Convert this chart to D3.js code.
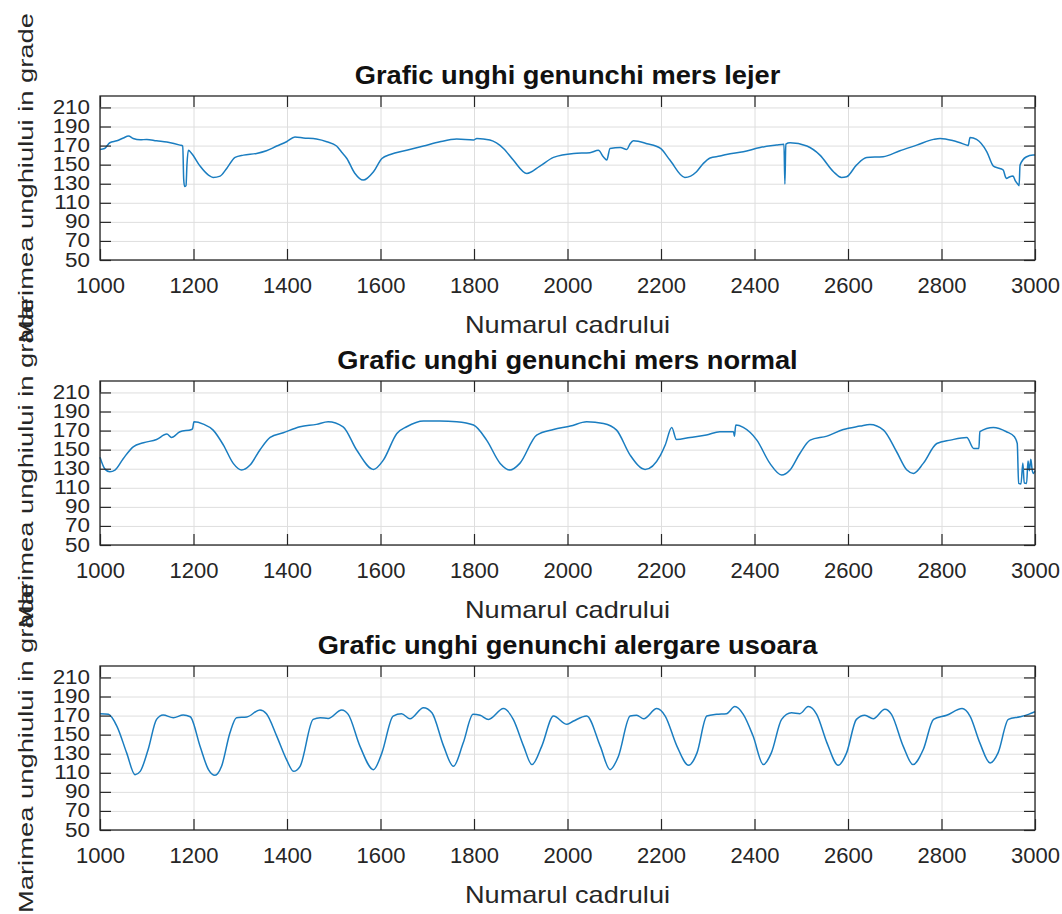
<!DOCTYPE html>
<html>
<head>
<meta charset="utf-8">
<script src="https://cdn.jsdelivr.net/npm/d3@7"></script>
<style>
  body { margin: 0; background: #fff; }
  svg { display: block; font-family: "Liberation Sans", Arial, Helvetica, sans-serif; }
</style>
</head>
<body>
<div id="chart"></div>
<script>

// Axis labels and ticks
const titles = [
  'Grafic unghi genunchi mers lejer',
  'Grafic unghi genunchi mers normal',
  'Grafic unghi genunchi alergare usoara'
];
const xLabel = 'Numarul cadrului';
const yLabel = 'Marimea unghiului in grade';
const xTicks = [1000, 1200, 1400, 1600, 1800, 2000, 2200, 2400, 2600, 2800, 3000];
const yTicks = [50, 70, 90, 110, 130, 150, 170, 190, 210];

// mers lejer
const lejerFrames = [1000, 1010, 1021, 1036, 1050, 1061, 1071, 1086, 1100, 1121, 1143, 1171, 1177, 1179, 1181, 1184, 1186, 1189,
  1196, 1214, 1232, 1242, 1257, 1271, 1289, 1307, 1335, 1356, 1378, 1399, 1417, 1435, 1463, 1485, 1506, 1517, 1528, 1545,
  1563, 1585, 1603, 1621, 1656, 1692, 1727, 1763, 1799, 1806, 1834, 1863, 1884, 1913, 1941, 1970, 2013, 2048, 2066, 2077,
  2084, 2091, 2113, 2127, 2134, 2141, 2170, 2199, 2219, 2251, 2276, 2290, 2305, 2326, 2340, 2376, 2412, 2447, 2463, 2465,
  2467, 2476, 2512, 2540, 2569, 2586, 2597, 2618, 2640, 2675, 2711, 2747, 2783, 2797, 2826, 2854, 2857, 2861, 2875, 2897,
  2911, 2925, 2932, 2937, 2939, 2945, 2953, 2958, 2963, 2966, 2968, 2981, 2996, 3000];
const lejerAngles = [166, 167, 173, 175, 178, 180, 177.5, 176, 176.5, 175, 173.7, 170.5, 169.5, 135, 127, 128, 150, 165,
  161.8, 148.5, 139, 136.6, 138, 146, 157.6, 160, 161.8, 164.6, 169.5, 174, 179, 178, 176.8, 174, 169.5, 163, 156.5, 141,
  133.8, 142.6, 156.5, 160.7, 165, 169.5, 174, 176.8, 175.8, 177.5, 175.8, 167, 154.8, 140.8, 148.5, 157.6, 161.8, 162.5, 165, 158,
  154.8, 167, 168, 166, 172, 175, 172, 167, 154.8, 136.6, 142.6, 151, 157, 159, 160.7, 163.5, 168, 170.5, 171.5, 129.6,
  171.6, 173, 169.5, 160, 142.6, 136.6, 137.3, 149.5, 157.6, 158.3, 164.6, 170.5, 176.5, 177.5, 175, 170.5, 170, 178.5, 176.5, 163.5,
  148.5, 146, 144.3, 137, 135.6, 137, 138, 133, 129.6, 128, 149.5, 158, 160, 160];

// mers normal
const normalFrames = [1000, 1011, 1021, 1032, 1050, 1071, 1093, 1121, 1143, 1153, 1171, 1196, 1198, 1201, 1221, 1242, 1264,
  1285, 1303, 1321, 1342, 1364, 1392, 1428, 1463, 1488, 1520, 1549, 1585, 1606, 1635, 1656, 1692, 1727, 1763, 1799, 1827,
  1856, 1877, 1898, 1934, 1970, 2006, 2041, 2077, 2105, 2134, 2166, 2199, 2209, 2223, 2233, 2262, 2297, 2326, 2355, 2357,
  2360, 2376, 2405, 2433, 2458, 2476, 2497, 2519, 2555, 2590, 2626, 2647, 2676, 2704, 2726, 2740, 2761, 2790, 2819, 2854,
  2869, 2880, 2882, 2911, 2939, 2956, 2962, 2965, 2970, 2974, 2977, 2982, 2985, 2988, 2991, 2994, 2997, 3000];
const normalAngles = [142, 129.3, 126.9, 128.6, 140.8, 153, 157.2, 160.7, 166.3, 162.8, 168.8, 171.2, 172, 179.3, 176.8, 170.5, 154.8,
  135.6, 128.6, 133.8, 149.6, 162.8, 167.7, 174, 176.5, 179.3, 174, 149.6, 129.3, 139, 167, 174, 180, 180, 179.3, 175.8, 160,
  135.6, 128.6, 135.6, 165.3, 171.2, 174.7, 179.3, 177.5, 170.5, 144.3, 129.3, 144.3, 154.8, 173.3, 160.7, 162.8, 165.3, 168.8, 168.8, 164,
  175.8, 173.3, 160, 135.6, 123.4, 128.6, 146, 160, 164.2, 171.2, 174.7, 176.5, 170.5, 147.8, 128.6, 125.1, 135.6, 156.5, 160, 162.8,
  151.3, 151.3, 168.8, 173.3, 168.8, 163.5, 156.5, 114.6, 114, 136, 115, 114.6, 138, 128, 140, 128.6, 125, 128];

// alergare usoara
const alergareFrames = [1000, 1018, 1036, 1057, 1075, 1086, 1103, 1121, 1135, 1157, 1178, 1193, 1214, 1232, 1246, 1260, 1278,
  1292, 1314, 1342, 1356, 1378, 1399, 1414, 1428, 1456, 1471, 1488, 1517, 1531, 1556, 1585, 1603, 1627, 1645, 1663, 1692,
  1710, 1735, 1756, 1777, 1798, 1813, 1831, 1863, 1884, 1906, 1924, 1945, 1970, 1999, 2013, 2041, 2070, 2091, 2109, 2134,
  2148, 2163, 2191, 2209, 2234, 2259, 2277, 2298, 2319, 2340, 2358, 2376, 2397, 2419, 2436, 2458, 2479, 2497, 2515, 2533,
  2555, 2579, 2597, 2618, 2636, 2654, 2679, 2693, 2718, 2739, 2761, 2783, 2811, 2844, 2861, 2882, 2904, 2921, 2943, 2968,
  2986, 3000];
const alergareAngles = [172, 171.3, 159, 130.9, 108, 111.5, 134.4, 166, 170.6, 167.8, 170.6, 168.8, 137.9, 113.3, 107.3, 116.8, 152,
  167.8, 168.5, 175.9, 172, 148.5, 123.8, 111.5, 116.8, 166, 167.8, 167, 175.9, 171.3, 138, 113.3, 130.9, 169.5, 172, 166.7, 178.3,
  173, 138, 116.8, 141.4, 171.3, 170.3, 166, 177.3, 166, 138, 118.6, 138, 169.5, 160.8, 164.3, 169.5, 138, 113.3, 127.4, 169.5,
  170.3, 166.7, 177.3, 169.5, 138, 117.9, 130.9, 169.5, 171.3, 172, 179.4, 171.3, 148.5, 118.6, 130.9, 166, 173, 172, 179.4, 171.3,
  141.4, 117.9, 130.9, 166, 170.3, 166.7, 176.6, 171.3, 138, 118.6, 134.4, 166, 170.3, 177.3, 169.5, 141.4, 120.3, 130.9, 166, 168.8,
  171.3, 174];

const series = [
  d3.zip(lejerFrames, lejerAngles),
  d3.zip(normalFrames, normalAngles),
  d3.zip(alergareFrames, alergareAngles)
];

const width = 1062;
const height = 914;
const plotLeft = 100;
const plotRight = 1035;
const plotHeight = 164;
const panelTops = [96, 381, 666];
const axisColor = '#262626';
const tickLength = 11;

const svg = d3.select('#chart')
  .append('svg')
  .attr('width', width)
  .attr('height', height);

const x = d3.scaleLinear()
  .domain([1000, 3000])
  .range([plotLeft, plotRight]);

// stretch a text node horizontally along its reading direction
function stretch(sel, factor) {
  const w = sel.node().getComputedTextLength();
  sel.attr('textLength', w * factor).attr('lengthAdjust', 'spacingAndGlyphs');
}

function styleAxis(g) {
  g.attr('font-family', null).attr('font-size', null);
  g.select('.domain').remove();
  g.selectAll('.tick line').attr('stroke', axisColor).attr('stroke-width', 1.2);
}

series.forEach(function(data, i) {

  const top = panelTops[i];
  const bottom = top + plotHeight;
  const y = d3.scaleLinear()
    .domain([50, 222])
    .range([bottom, top]);

  const panel = svg.append('g').attr('class', 'panel');

  // grid
  panel.append('g')
    .attr('transform', 'translate(0,' + bottom + ')')
    .call(d3.axisBottom(x).tickValues(xTicks).tickSize(-plotHeight).tickFormat(''))
    .call(g => g.select('.domain').remove())
    .selectAll('.tick line')
    .attr('stroke', '#dedede');

  panel.append('g')
    .attr('transform', 'translate(' + plotLeft + ',0)')
    .call(d3.axisLeft(y).tickValues(yTicks).tickSize(-(plotRight - plotLeft)).tickFormat(''))
    .call(g => g.select('.domain').remove())
    .selectAll('.tick line')
    .attr('stroke', '#dedede');

  // data line
  panel.append('path')
    .datum(data)
    .attr('fill', 'none')
    .attr('stroke', '#1a7dc0')
    .attr('stroke-width', 1.5)
    .attr('stroke-linejoin', 'round')
    .attr('d', d3.line()
      .x(d => x(d[0]))
      .y(d => y(d[1]))
      .curve(d3.curveMonotoneX));

  // axes with inward ticks
  panel.append('g')
    .attr('transform', 'translate(0,' + bottom + ')')
    .call(d3.axisBottom(x).tickValues(xTicks).tickFormat(d3.format('d'))
      .tickSizeInner(-tickLength).tickSizeOuter(0).tickPadding(17))
    .call(styleAxis)
    .selectAll('text')
    .attr('fill', axisColor)
    .style('font-size', '22px');

  panel.append('g')
    .attr('transform', 'translate(0,' + top + ')')
    .call(d3.axisTop(x).tickValues(xTicks).tickSizeInner(-tickLength).tickSizeOuter(0).tickFormat(''))
    .call(styleAxis);

  panel.append('g')
    .attr('transform', 'translate(' + plotLeft + ',0)')
    .call(d3.axisLeft(y).tickValues(yTicks).tickSizeInner(-tickLength).tickSizeOuter(0).tickPadding(10))
    .call(styleAxis)
    .selectAll('text')
    .attr('fill', axisColor)
    .attr('dy', '0.3em')
    .style('font-size', '20px')
    .each(function() { stretch(d3.select(this), 1.12); });

  panel.append('g')
    .attr('transform', 'translate(' + plotRight + ',0)')
    .call(d3.axisRight(y).tickValues(yTicks).tickSizeInner(-tickLength).tickSizeOuter(0).tickFormat(''))
    .call(styleAxis);

  panel.append('rect')
    .attr('x', plotLeft)
    .attr('y', top)
    .attr('width', plotRight - plotLeft)
    .attr('height', plotHeight)
    .attr('fill', 'none')
    .attr('stroke', axisColor)
    .attr('stroke-width', 1.3);

  // title
  const title = panel.append('text')
    .attr('x', (plotLeft + plotRight) / 2)
    .attr('y', top - 12)
    .attr('text-anchor', 'middle')
    .style('font-size', '25px')
    .style('font-weight', 'bold')
    .attr('fill', '#111')
    .text(titles[i]);
  stretch(title, 1.09);

  // x label
  const xl = panel.append('text')
    .attr('x', (plotLeft + plotRight) / 2)
    .attr('y', bottom + 73)
    .attr('text-anchor', 'middle')
    .style('font-size', '24px')
    .attr('fill', axisColor)
    .text(xLabel);
  stretch(xl, 1.13);

  // y label
  panel.append('text')
    .attr('transform', 'translate(33,' + (top + plotHeight / 2) + ') rotate(-90)')
    .attr('text-anchor', 'middle')
    .style('font-size', '21px')
    .attr('fill', axisColor)
    .attr('textLength', 330)
    .attr('lengthAdjust', 'spacingAndGlyphs')
    .text(yLabel);
});

</script>
</body>
</html>
